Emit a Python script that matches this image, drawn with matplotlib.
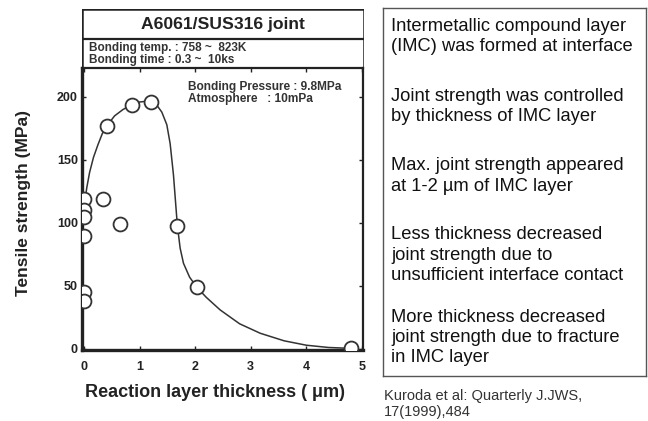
import matplotlib
matplotlib.use("Agg")
from matplotlib import pyplot as plt
from matplotlib.patches import Rectangle

plt.rcParams["font.family"] = ["Liberation Sans", "DejaVu Sans"]

# measured points (thickness um, tensile strength MPa)
point_x = [0.0, 0.0, 0.0, 0.0, 0.0, 0.0, 0.34, 0.41, 0.65, 0.86, 1.2, 1.68, 2.03, 4.8]
point_y = [119, 110, 105, 90, 45, 38, 119, 177, 99, 194, 196, 98, 49, 0.5]

# fitted curve
curve_x = [0.0, 0.05, 0.1, 0.17, 0.25, 0.33, 0.41, 0.55, 0.7, 0.86, 1.0, 1.1, 1.2,
           1.31, 1.4, 1.49, 1.55, 1.61, 1.65, 1.68, 1.73, 1.79, 1.9, 2.03, 2.2,
           2.45, 2.8, 3.17, 3.6, 4.0, 4.4, 4.8]
curve_y = [112, 128, 140, 152, 162, 171, 177, 185, 190, 194, 196, 196.5, 196,
           193.5, 188, 178, 163, 138, 115, 98, 80, 68, 57, 49, 41,
           31, 20, 12.5, 6.5, 3, 1.2, 0.5]

x_ticks = [0, 1, 2, 3, 4, 5]
y_ticks = [0, 50, 100, 150, 200]

title = "A6061/SUS316 joint"
conditions = "Bonding temp. : 758 ~  823K\nBonding time : 0.3 ~  10ks"
note = "Bonding Pressure : 9.8MPa\nAtmosphere   : 10mPa"
remarks = [
    "Intermetallic compound layer\n(IMC) was formed at interface",
    "Joint strength was controlled\nby thickness of IMC layer",
    "Max. joint strength appeared\nat 1-2 \u00b5m of IMC layer",
    "Less thickness decreased\njoint strength due to\nunsufficient interface contact",
    "More thickness decreased\njoint strength due to fracture\nin IMC layer",
]
remark_y = [28.5, 98.5, 168, 247, 329.5]
citation = "Kuroda et al: Quarterly J.JWS,\n17(1999),484"

W, H = 648, 421
fig = plt.figure(figsize=(W / 100, H / 100), dpi=100)


def px_box(x0, y0, x1, y1):
    return [x0 / W, 1 - y1 / H, (x1 - x0) / W, (y1 - y0) / H]


ax = fig.add_axes(px_box(82, 68, 363, 350))
ax.plot(curve_x, curve_y, color="#333333", lw=1.1, zorder=2)
ax.plot(point_x, point_y, "o", ms=10, mfc="white", mec="#333333", mew=1.3, zorder=3)
ax.set_xlim(-0.036, 5.02)
ax.set_ylim(-0.8, 223)
ax.set_xticks(x_ticks)
ax.set_yticks(y_ticks)
ax.tick_params(direction="in", top=True, right=True, length=3, width=1,
               labelsize=9, colors="#222222")
ax.tick_params(axis="x", pad=8)
ax.tick_params(axis="y", pad=3)
for lab in ax.get_xticklabels() + ax.get_yticklabels():
    lab.set_fontweight("bold")
for sp in ax.spines.values():
    sp.set_linewidth(1.6)
    sp.set_color("#222222")
ax.spines["left"].set_linewidth(2.4)
ax.spines["bottom"].set_linewidth(2.4)
ax.set_xlabel("Reaction layer thickness ( \u03bcm)", fontsize=13, fontweight="bold",
              color="#222222", labelpad=10)
ax.xaxis.set_label_coords(0.473, -0.12)
ax.set_ylabel("Tensile strength (MPa)", fontsize=12.5, fontweight="bold",
              color="#222222")
ax.yaxis.set_label_coords(-0.18, 0.52)
ax.text(1.87, 203, note, fontsize=8.6, fontweight="bold", color="#333333",
        va="center", linespacing=1.0)

# header boxes above the plot
hdr = fig.add_axes(px_box(82, 9, 364, 68))
hdr.set_xlim(0, 1)
hdr.set_ylim(0, 59)
hdr.axis("off")
hdr.add_patch(Rectangle((0, 0), 1, 59, fill=False, lw=1.8, ec="#222222"))
hdr.axhline(29, color="#222222", lw=1.6)
hdr.text(0.5, 44, title, ha="center", va="center", fontsize=12.6,
         fontweight="bold", color="#222222")
hdr.text(0.025, 14.5, conditions, ha="left", va="center", fontsize=8.5,
         fontweight="bold", color="#333333", linespacing=1.0)

# right-hand text panel
side = fig.add_axes(px_box(383, 8, 646, 376))
side.set_xlim(0, 263)
side.set_ylim(368, 0)
side.set_xticks([])
side.set_yticks([])
for sp in side.spines.values():
    sp.set_linewidth(1.0)
    sp.set_color("#555555")
for txt, ty in zip(remarks, remark_y):
    side.text(8, ty, txt, fontsize=13.2, va="center", ha="left",
              color="#111111", linespacing=1.25)

fig.text(384 / W, 1 - 404 / H, citation, fontsize=10.5, va="center", ha="left",
         color="#333333", linespacing=1.25)

fig.savefig("out.png", dpi=100)
